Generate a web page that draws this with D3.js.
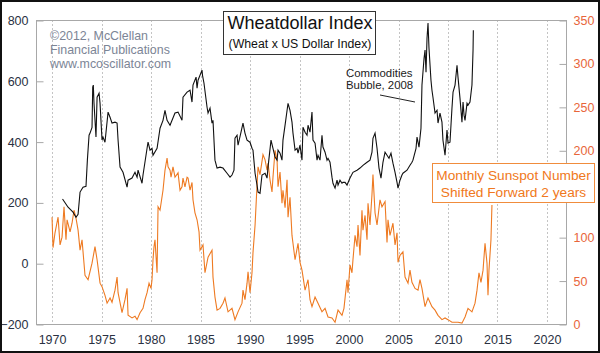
<!DOCTYPE html>
<html>
<head>
<meta charset="utf-8">
<script src="https://cdn.jsdelivr.net/npm/d3@7"></script>
<style>
  html, body { margin: 0; padding: 0; background: #fff; }
  svg { display: block; font-family: "Liberation Sans", Arial, sans-serif; }
</style>
</head>
<body>
<div id="mychart"></div>
<script>
// Wheatdollar index vs monthly sunspot number (shifted forward 2 years)

// data: [decimal year, value]
const wheatdollar = [
  [1971.06,211],[1971.62,184],[1972.12,168],[1972.42,151],[1972.63,161],[1972.83,234],[1973.13,250],[1973.43,253],
  [1973.57,339],[1973.74,421],[1973.84,428],[1974.04,447],[1974.11,579],[1974.17,586],[1974.24,526],[1974.44,415],
  [1974.55,546],[1974.75,559],[1974.85,526],[1975.05,405],[1975.15,415],[1975.35,398],[1975.66,497],[1975.86,480],
  [1976.06,461],[1976.36,464],[1976.57,461],[1976.67,405],[1976.87,316],[1977.17,299],[1977.58,250],[1977.68,273],
  [1978.08,280],[1978.38,299],[1978.59,283],[1978.69,306],[1979.09,263],[1979.19,290],[1979.60,378],[1979.70,398],
  [1979.90,372],[1980.10,378],[1980.20,355],[1980.61,378],[1980.91,444],[1981.21,470],[1981.41,503],[1981.62,470],
  [1981.92,454],[1982.42,494],[1982.73,497],[1983.13,470],[1983.23,546],[1983.64,563],[1983.94,569],[1984.14,530],
  [1984.24,586],[1984.55,612],[1984.65,576],[1984.75,602],[1985.15,635],[1985.20,618],[1985.35,592],[1985.66,513],
  [1985.76,494],[1985.96,510],[1986.16,461],[1986.26,470],[1986.46,339],[1986.67,313],[1986.97,316],[1987.27,313],
  [1987.68,296],[1987.98,283],[1988.18,290],[1988.38,306],[1988.48,411],[1988.69,421],[1988.79,388],[1989.09,431],
  [1989.29,461],[1989.49,428],[1989.70,405],[1990.00,398],[1990.20,378],[1990.30,372],[1990.51,296],[1990.71,257],
  [1990.81,234],[1991.01,230],[1991.21,290],[1991.52,296],[1991.72,280],[1991.82,316],[1992.12,405],[1992.32,378],
  [1992.53,349],[1992.73,339],[1992.83,372],[1993.03,362],[1993.23,339],[1993.33,405],[1993.54,454],[1993.84,526],
  [1994.04,503],[1994.24,464],[1994.34,428],[1994.55,372],[1994.75,378],[1994.85,362],[1995.05,388],[1995.25,339],
  [1995.35,447],[1995.56,431],[1995.76,421],[1995.86,454],[1996.06,431],[1996.26,497],[1996.36,405],[1996.57,395],
  [1996.77,339],[1996.87,355],[1997.07,339],[1997.27,421],[1997.37,382],[1997.58,365],[1997.78,339],[1997.88,345],
  [1998.08,332],[1998.28,283],[1998.38,263],[1998.59,247],[1998.79,273],[1998.89,257],[1999.09,273],[1999.29,263],
  [1999.39,266],[1999.60,266],[1999.80,257],[2000.10,280],[2000.40,299],[2000.81,306],[2001.11,313],[2001.41,322],
  [2001.82,332],[2002.12,339],[2002.32,365],[2002.42,411],[2002.63,428],[2002.83,378],[2003.03,313],[2003.23,280],
  [2003.43,332],[2003.64,365],[2003.84,355],[2004.04,345],[2004.24,362],[2004.44,329],[2004.65,299],[2004.85,266],
  [2004.95,247],[2005.15,273],[2005.35,290],[2005.45,296],[2005.86,306],[2006.16,322],[2006.36,332],[2006.46,339],
  [2006.77,378],[2006.87,415],[2007.07,382],[2007.27,444],[2007.37,586],[2007.58,674],[2007.68,701],[2007.78,628],
  [2007.88,740],[2007.98,790],[2008.08,707],[2008.28,602],[2008.38,569],[2008.48,546],[2008.69,494],[2008.89,503],
  [2008.99,461],[2009.19,494],[2009.39,464],[2009.49,405],[2009.70,355],[2009.90,438],[2010.00,395],[2010.20,398],
  [2010.40,510],[2010.51,563],[2010.71,586],[2010.91,651],[2011.01,612],[2011.21,543],[2011.41,464],[2011.52,530],
  [2011.62,487],[2011.72,470],[2011.92,526],[2012.02,520],[2012.22,530],[2012.42,586],[2012.53,701],[2012.56,766]
]

const sunspots = [
  [1970.00,123],[1970.10,88],[1970.30,105],[1970.61,123],[1970.81,91],[1971.01,100],[1971.21,135],[1971.41,97],
  [1971.52,120],[1971.82,106],[1972.02,116],[1972.22,131],[1972.42,122],[1972.63,108],[1972.83,85],[1973.03,97],
  [1973.33,56],[1973.64,51],[1974.04,70],[1974.34,89],[1974.55,74],[1974.85,47],[1975.05,43],[1975.35,33],
  [1975.56,24],[1975.86,30],[1976.06,25],[1976.36,39],[1976.57,54],[1976.67,36],[1977.07,13],[1977.37,28],
  [1977.58,41],[1977.68,10],[1978.08,7],[1978.38,9],[1978.59,5],[1978.89,13],[1979.19,18],[1979.39,28],
  [1979.60,36],[1979.80,47],[1980.00,41],[1980.10,51],[1980.20,74],[1980.30,89],[1980.40,97],[1980.61,59],
  [1980.71,135],[1980.91,131],[1981.21,154],[1981.41,177],[1981.62,191],[1981.72,181],[1981.92,177],[1982.02,169],
  [1982.22,181],[1982.42,169],[1982.73,174],[1982.93,154],[1983.13,158],[1983.23,168],[1983.43,158],[1983.64,169],
  [1983.74,168],[1983.94,154],[1984.14,163],[1984.24,143],[1984.44,128],[1984.65,120],[1984.85,106],[1984.95,85],
  [1985.25,91],[1985.45,59],[1985.76,77],[1986.16,85],[1986.26,54],[1986.46,31],[1986.67,16],[1986.97,18],
  [1987.27,24],[1987.47,30],[1987.78,14],[1988.18,18],[1988.48,5],[1988.79,14],[1989.19,24],[1989.29,39],
  [1989.49,28],[1989.70,47],[1989.80,60],[1990.00,36],[1990.20,59],[1990.30,82],[1990.51,114],[1990.71,160],
  [1990.81,181],[1991.01,172],[1991.31,195],[1991.52,189],[1991.72,177],[1991.82,185],[1992.02,166],[1992.22,152],
  [1992.32,169],[1992.53,200],[1992.73,189],[1992.83,158],[1993.03,175],[1993.23,139],[1993.33,154],[1993.54,134],
  [1993.74,166],[1993.84,123],[1994.04,146],[1994.24,102],[1994.34,93],[1994.55,74],[1994.85,93],[1995.05,71],
  [1995.25,62],[1995.56,39],[1995.86,51],[1996.06,28],[1996.26,20],[1996.57,31],[1996.87,24],[1997.27,14],
  [1997.58,18],[1997.88,8],[1998.28,7],[1998.59,2],[1998.89,16],[1999.29,10],[1999.49,18],[1999.80,51],
  [1999.90,36],[2000.10,68],[2000.30,59],[2000.40,74],[2000.61,102],[2000.81,89],[2000.91,114],[2001.11,79],
  [2001.31,131],[2001.41,108],[2001.62,125],[2001.82,97],[2001.92,139],[2002.12,114],[2002.32,149],[2002.42,172],
  [2002.63,128],[2002.83,114],[2003.13,143],[2003.33,135],[2003.64,141],[2003.84,94],[2003.94,120],[2004.14,102],
  [2004.44,116],[2004.65,91],[2004.85,105],[2004.95,71],[2005.15,79],[2005.45,83],[2005.66,54],[2005.96,47],
  [2006.16,62],[2006.36,48],[2006.67,41],[2006.97,39],[2007.17,51],[2007.37,41],[2007.68,20],[2007.98,30],
  [2008.38,20],[2008.69,16],[2008.99,10],[2009.39,5],[2009.70,7],[2010.00,5],[2010.40,2],[2010.71,2],
  [2011.01,2],[2011.41,1],[2011.72,8],[2012.02,18],[2012.42,14],[2012.73,24],[2012.93,39],[2013.13,59],
  [2013.33,48],[2013.54,62],[2013.74,93],[2013.94,70],[2014.04,33],[2014.14,62],[2014.34,97],[2014.44,137]
]

// tick values (150 on the right sits under the sunspot note box)
const yearTicks = [1970, 1975, 1980, 1985, 1990, 1995, 2000, 2005, 2010, 2015, 2020]
const leftTicks = [-200, 0, 200, 400, 600, 800]
const rightTicks = [0, 50, 100, 200, 250, 300, 350]

const chartWidth = 600
const chartHeight = 353

// plot box
const marginTop = 20
const marginRight = 34
const marginBottom = 29
const marginLeft = 36

const fontStack = '"Liberation Sans", Arial, sans-serif'
const ink = "#2a3142"
const orange = "#ee7a22"

// scales
const xScale = d3.scaleLinear([1968.38, 2021.92], [marginLeft, chartWidth - marginRight])
const yLeft = d3.scaleLinear([-200, 800], [chartHeight - marginBottom, marginTop])
const yRight = d3.scaleLinear([0, 350], [chartHeight - marginBottom, marginTop])

const svg = d3.select("#mychart")
  .append("svg")
  .attr("width", chartWidth)
  .attr("height", chartHeight)
  .attr("viewBox", [0, 0, chartWidth, chartHeight])

svg.append("rect")
  .attr("width", chartWidth).attr("height", chartHeight)
  .attr("fill", "#fff")

// dotted year gridlines
svg.append("g")
  .selectAll("line")
  .data(yearTicks)
  .join("line")
  .attr("x1", d => Math.round(xScale(d)) + 0.5)
  .attr("x2", d => Math.round(xScale(d)) + 0.5)
  .attr("y1", marginTop)
  .attr("y2", chartHeight - marginBottom)
  .attr("stroke", "#c4c4c4")
  .attr("stroke-dasharray", "2,2")

// plot frame
svg.append("rect")
  .attr("x", marginLeft + 0.5)
  .attr("y", marginTop + 0.5)
  .attr("width", chartWidth - marginLeft - marginRight)
  .attr("height", chartHeight - marginTop - marginBottom)
  .attr("fill", "none")
  .attr("stroke", "#a8a8a8")

// axes
svg.append("g")
  .attr("transform", `translate(${marginLeft + 0.5},0.5)`)
  .call(d3.axisLeft(yLeft).tickValues(leftTicks).tickSize(-7).tickPadding(8))
  .call(g => g.select(".domain").remove())
  .call(g => g.selectAll(".tick line").attr("stroke", "#a8a8a8"))
  .call(g => g.selectAll("text").attr("fill", ink).attr("font-size", "12.5px").attr("font-family", fontStack))

svg.append("g")
  .attr("transform", `translate(${chartWidth - marginRight + 0.5},0.5)`)
  .call(d3.axisRight(yRight).tickValues(rightTicks).tickSize(-7).tickPadding(7))
  .call(g => g.select(".domain").remove())
  .call(g => g.selectAll(".tick line").attr("stroke", "#a8a8a8"))
  .call(g => g.selectAll("text").attr("fill", "#e8653a").attr("font-size", "12.5px").attr("font-family", fontStack))

svg.append("g")
  .attr("transform", `translate(0,${chartHeight - marginBottom})`)
  .call(d3.axisBottom(xScale).tickValues(yearTicks).tickFormat(d3.format("d")).tickSize(0).tickPadding(11))
  .call(g => g.select(".domain").remove())
  .call(g => g.selectAll("text").attr("fill", ink).attr("font-size", "12.5px").attr("font-family", fontStack))

// series
const wheatLine = d3.line().x(d => xScale(d[0])).y(d => yLeft(d[1]))
const sunLine = d3.line().x(d => xScale(d[0])).y(d => yRight(d[1]))

svg.append("path")
  .datum(sunspots)
  .attr("fill", "none")
  .attr("stroke", orange)
  .attr("stroke-width", 1.1)
  .attr("d", sunLine)

svg.append("path")
  .datum(wheatdollar)
  .attr("fill", "none")
  .attr("stroke", "#111")
  .attr("stroke-width", 1.1)
  .attr("d", wheatLine)

// copyright note
svg.append("g")
  .attr("fill", "#7c8596")
  .attr("font-size", "12.4px")
  .selectAll("text")
  .data(["\u00a92012, McClellan", "Financial Publications", "www.mcoscillator.com"])
  .join("text")
  .attr("x", 50)
  .attr("y", (d, i) => 40 + i * 14)
  .text(d => d)

// title box
svg.append("rect")
  .attr("x", 223.5).attr("y", 11.5)
  .attr("width", 152).attr("height", 43)
  .attr("fill", "#fff")
  .attr("stroke", "#333")
svg.append("text")
  .attr("x", 300).attr("y", 29)
  .attr("text-anchor", "middle")
  .attr("font-size", "18px")
  .attr("fill", "#111")
  .text("Wheatdollar Index")
svg.append("text")
  .attr("x", 300).attr("y", 48)
  .attr("text-anchor", "middle")
  .attr("font-size", "12.3px")
  .attr("fill", "#111")
  .text("(Wheat x US Dollar Index)")

// commodities bubble note
svg.append("g")
  .attr("fill", "#222")
  .attr("font-size", "11.4px")
  .selectAll("text")
  .data(["Commodities", "Bubble, 2008"])
  .join("text")
  .attr("x", 346)
  .attr("y", (d, i) => 77 + i * 12)
  .text(d => d)
svg.append("line")
  .attr("x1", 380).attr("y1", 95)
  .attr("x2", 415).attr("y2", 102)
  .attr("stroke", "#222")

// sunspot legend box
svg.append("rect")
  .attr("x", 432.5).attr("y", 163.5)
  .attr("width", 162).attr("height", 39)
  .attr("fill", "#fff")
  .attr("stroke", "#f08c3c")
svg.append("g")
  .attr("fill", "#f07820")
  .attr("font-size", "13.7px")
  .attr("text-anchor", "middle")
  .selectAll("text")
  .data(["Monthly Sunspot Number", "Shifted Forward 2 years"])
  .join("text")
  .attr("x", 513.5)
  .attr("y", (d, i) => 180 + i * 16.5)
  .text(d => d)

// outer border
svg.append("rect")
  .attr("x", 1).attr("y", 1)
  .attr("width", chartWidth - 2).attr("height", chartHeight - 2)
  .attr("fill", "none")
  .attr("stroke", "#111")
  .attr("stroke-width", 2)
</script>
</body>
</html>
